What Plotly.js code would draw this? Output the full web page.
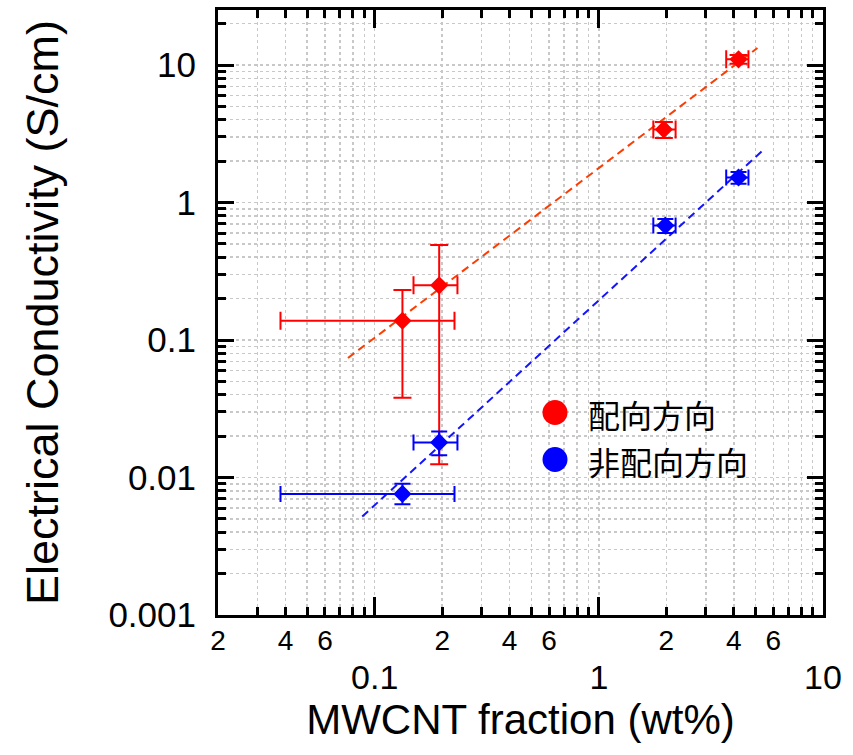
<!DOCTYPE html>
<html>
<head>
<meta charset="utf-8">
<script src="https://cdn.plot.ly/plotly-3.0.1.min.js"></script>
<style>html,body{margin:0;padding:0;background:#fff;}#chart{width:853px;height:755px;}</style>
</head>
<body>
<div id="chart"></div>
<script>
// ---- data ----
const redName = '配向方向';
const blueName = '非配向方向';

const redX = [0.133, 0.194, 1.95, 4.2];
const redY = [0.138, 0.25, 3.4, 11.0];
const redXminus = [0.095, 0.045, 0.20, 0.50];
const redXplus = [0.094, 0.040, 0.25, 0.45];
const redYminus = [0.100, 0.2375, 0.45, 0.8];
const redYplus = [0.093, 0.24, 0.45, 0.8];

const blueX = [0.133, 0.194, 1.98, 4.2];
const blueY = [0.0076, 0.018, 0.68, 1.52];
const blueXminus = [0.095, 0.045, 0.23, 0.50];
const blueXplus = [0.094, 0.040, 0.22, 0.45];
const blueYminus = [0.0012, 0.0035, 0.08, 0.15];
const blueYplus = [0.0014, 0.0036, 0.08, 0.15];

const redFitX = [0.076, 5.1];
const redFitY = [0.074, 13.3];
const blueFitX = [0.088, 5.4];
const blueFitY = [0.0052, 2.4];

const xMajorVals = [0.1, 1, 10];
const xMajorText = ['0.1', '1', '10'];
const xMinorVals = [0.02,0.03,0.04,0.05,0.06,0.07,0.08,0.09,0.2,0.3,0.4,0.5,0.6,0.7,0.8,0.9,2,3,4,5,6,7,8,9];
const xMinorLabelVals = [0.02, 0.04, 0.06, 0.2, 0.4, 0.6, 2, 4, 6];
const xMinorLabelText = ['2', '4', '6', '2', '4', '6', '2', '4', '6'];
const yMajorVals = [0.001, 0.01, 0.1, 1, 10];
const yMajorText = ['0.001', '0.01', '0.1', '1', '10'];
const yMinorVals = [0.002,0.003,0.004,0.005,0.006,0.007,0.008,0.009,
                    0.02,0.03,0.04,0.05,0.06,0.07,0.08,0.09,
                    0.2,0.3,0.4,0.5,0.6,0.7,0.8,0.9,
                    2,3,4,5,6,7,8,9,20];

const RED = '#ff0000';
const BLUE = '#0000ff';
const GRID = '#c8c8c8';
const FONT = 'Liberation Sans, Arial, sans-serif';
const CJK = 'Noto Sans CJK JP, Noto Sans CJK SC, sans-serif';

const xRange = [Math.log10(0.02), 1];
const yRange = [-3, 1.4];

const traces = [
  {x: redFitX, y: redFitY, mode: 'lines', line: {color: '#ff3c00', width: 2, dash: '8px,5px'}, showlegend: false, hoverinfo: 'skip'},
  {x: blueFitX, y: blueFitY, mode: 'lines', line: {color: '#1414ff', width: 2, dash: '8px,5px'}, showlegend: false, hoverinfo: 'skip'},
  {x: redX, y: redY, name: redName, mode: 'markers', showlegend: false,
   marker: {symbol: 'diamond', size: 14, color: RED},
   error_x: {type: 'data', symmetric: false, array: redXplus, arrayminus: redXminus, color: RED, thickness: 2, width: 9},
   error_y: {type: 'data', symmetric: false, array: redYplus, arrayminus: redYminus, color: RED, thickness: 2, width: 9}},
  {x: blueX, y: blueY, name: blueName, mode: 'markers', showlegend: false,
   marker: {symbol: 'diamond', size: 14, color: BLUE},
   error_x: {type: 'data', symmetric: false, array: blueXplus, arrayminus: blueXminus, color: BLUE, thickness: 2, width: 8},
   error_y: {type: 'data', symmetric: false, array: blueYplus, arrayminus: blueYminus, color: BLUE, thickness: 2, width: 8}},
  // invisible trace to activate xaxis2 (minor "2 4 6" labels)
  {x: [0.5], y: [1], xaxis: 'x2', yaxis: 'y', mode: 'markers', marker: {opacity: 0}, showlegend: false, hoverinfo: 'skip'}
];

// legend geometry (paper coords of plot area)
const L = 218, R = 823, T = 10, B = 615;
const px = v => (v - L) / (R - L);
const py = v => (B - v) / (B - T);

const layout = {
  width: 853, height: 755,
  margin: {l: L, r: 853 - R, t: T, b: 755 - B},
  paper_bgcolor: '#ffffff', plot_bgcolor: '#ffffff',
  showlegend: false,
  font: {family: FONT, color: '#000'},
  xaxis: {
    type: 'log', range: xRange, showline: true, linecolor: '#000', linewidth: 3, mirror: 'ticks',
    ticks: 'inside', ticklen: 18, tickwidth: 3, tickcolor: '#000',
    tickmode: 'array', tickvals: xMajorVals, ticktext: xMajorText,
    tickfont: {size: 34, family: FONT, color: '#000'}, ticklabelstandoff: 30,
    showgrid: true, gridcolor: GRID, griddash: 'dot', gridwidth: 1.5, zeroline: false,
    minor: {tickmode: 'array', tickvals: xMinorVals, ticks: 'inside', ticklen: 8, tickwidth: 3, tickcolor: '#000',
            showgrid: true, gridcolor: GRID, griddash: 'dot', gridwidth: 1.5},
    title: {text: 'MWCNT fraction (wt%)', font: {size: 42, family: FONT, color: '#000'}, standoff: 10}
  },
  xaxis2: {
    type: 'log', range: xRange, overlaying: 'x', anchor: 'y', side: 'bottom',
    showline: false, ticks: '', showgrid: false, zeroline: false,
    tickmode: 'array', tickvals: xMinorLabelVals, ticktext: xMinorLabelText,
    tickfont: {size: 28, family: FONT, color: '#000'}, ticklabelstandoff: 6
  },
  yaxis: {
    type: 'log', range: yRange, showline: true, linecolor: '#000', linewidth: 3, mirror: 'ticks',
    ticks: 'inside', ticklen: 16, tickwidth: 3, tickcolor: '#000',
    tickmode: 'array', tickvals: yMajorVals, ticktext: yMajorText,
    tickfont: {size: 35, family: FONT, color: '#000'}, ticklabelstandoff: 12,
    showgrid: true, gridcolor: GRID, griddash: 'dot', gridwidth: 1.5, zeroline: false,
    minor: {tickmode: 'array', tickvals: yMinorVals, ticks: 'inside', ticklen: 8, tickwidth: 3, tickcolor: '#000',
            showgrid: true, gridcolor: GRID, griddash: 'dot', gridwidth: 1.5},
    title: {text: 'Electrical Conductivity (S/cm)', font: {size: 45, family: FONT, color: '#000'}, standoff: 36}
  },
  shapes: [
    {type: 'rect', xref: 'paper', yref: 'paper', x0: px(532), x1: px(800), y0: py(492), y1: py(383),
     fillcolor: '#ffffff', line: {width: 0}, layer: 'between'},
    {type: 'circle', xref: 'paper', yref: 'paper', x0: px(542.5), x1: px(567.5), y0: py(425), y1: py(400),
     fillcolor: RED, line: {width: 0}, layer: 'above'},
    {type: 'circle', xref: 'paper', yref: 'paper', x0: px(542.5), x1: px(567.5), y0: py(472), y1: py(447),
     fillcolor: BLUE, line: {width: 0}, layer: 'above'}
  ],
  annotations: [
    {xref: 'paper', yref: 'paper', x: px(587), y: py(414), xanchor: 'left', yanchor: 'middle', align: 'left',
     showarrow: false, borderpad: 0, text: redName, font: {size: 32, family: CJK, color: '#000'}},
    {xref: 'paper', yref: 'paper', x: px(587), y: py(461), xanchor: 'left', yanchor: 'middle', align: 'left',
     showarrow: false, borderpad: 0, text: blueName, font: {size: 32, family: CJK, color: '#000'}}
  ]
};

Plotly.newPlot('chart', traces, layout, {staticPlot: true, displayModeBar: false});
</script>
</body>
</html>
